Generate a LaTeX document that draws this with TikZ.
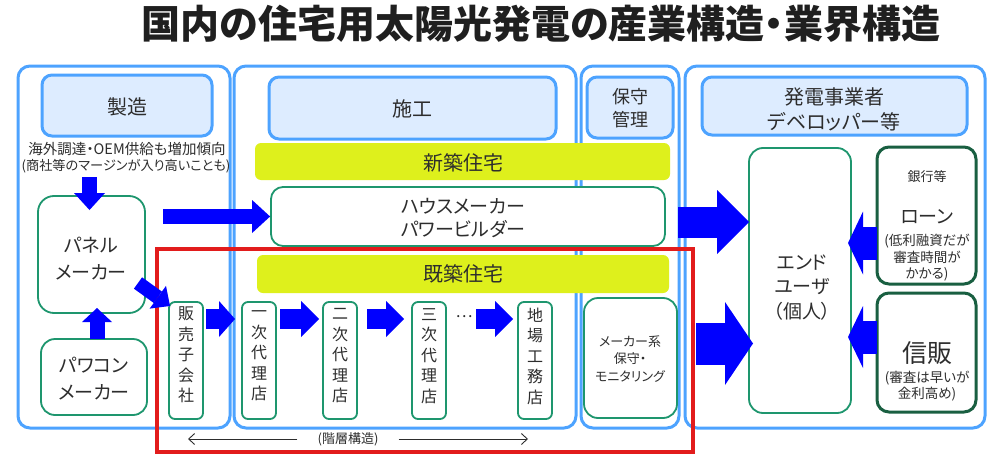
\documentclass[tikz,border=0pt]{standalone}
\usepackage{fontspec}
\setmainfont{Noto Sans CJK JP}[RawFeature=+palt]
\usetikzlibrary{arrows.meta,fit}
\definecolor{pblue}{RGB}{77,163,255}
\definecolor{hblue}{RGB}{221,236,255}
\definecolor{gcol}{RGB}{30,150,110}
\definecolor{dgreen}{RGB}{25,95,65}
\definecolor{ycol}{RGB}{222,240,28}
\definecolor{tcol}{RGB}{45,45,45}
\definecolor{rcol}{RGB}{226,28,28}
\newcommand\fsz[2]{\fontsize{#1}{#2}\selectfont}
\begin{document}
\begin{tikzpicture}[x=1pt,y=-1pt,
  every node/.style={text=tcol, inner sep=0pt, align=center},
  panel/.style={draw=pblue, line width=3pt, rounded corners=12pt},
  hdr/.style={draw=pblue, fill=hblue, line width=3pt, rounded corners=10pt},
  gbox/.style={draw=gcol, line width=1.8pt, rounded corners=8pt, fill=white},
  bankbox/.style={draw=dgreen, line width=3pt, rounded corners=12pt, fill=white},
  ybar/.style={fill=ycol, rounded corners=6pt},
  vtext/.style={font=\fsz{16}{20.5}},
  fat/.style n args={3}{draw=blue, line width=#1, -{Triangle[length=#2, width=#3, line width=0pt]}},
  lvl/.style={draw=tcol, line width=0.9pt, -{Straight Barb[length=6pt,width=11pt]}}
]
\useasboundingbox (0,0) rectangle (1000,460);
\fill[white] (0,0) rectangle (1000,460);

\node[font=\fsz{39}{41}\bfseries, text=black!88] (title) at (541,24) {国内の住宅用太陽光発電の産業構造・業界構造};

% panels
\node[panel, fit={(18,66) (230,428)}] (p1) {};
\node[panel, fit={(234,66) (576,428)}] (p2) {};
\node[panel, fit={(581,66) (679,428)}] (p3) {};
\node[panel, fit={(685,66) (985,428)}] (p4) {};

% headers
\node[hdr, fit={(42,75) (212,136)}] (h1) {};
\node[font=\fsz{20}{24}] (h1t) at (127,107) {製造};
\node[hdr, fit={(269,77) (556,139)}] (h2) {};
\node[font=\fsz{20}{24}] (h2t) at (412,109) {施工};
\node[hdr, fit={(587,77) (673,138)}] (h3) {};
\node[font=\fsz{18}{23}] (h3t) at (630,108.5) {保守\\管理};
\node[hdr, fit={(702,77) (967,135)}] (h4) {};
\node[font=\fsz{20}{25}] (h4t) at (834,109.5) {発電事業者\\デベロッパー等};

% bars
\node[ybar, fit={(255,143) (670,180)}] (newh) {};
\node[font=\fsz{20}{24}] (newt) at (463,163) {新築住宅};
\node[ybar, fit={(257,255) (669,293)}] (oldh) {};
\node[font=\fsz{20}{24}] (oldt) at (463,274) {既築住宅};

\node[gbox, rounded corners=12pt, fit={(271,187) (665,246)}] (house) {};
\node[font=\fsz{19}{23}] (houset) at (463,218.5) {ハウスメーカー\\パワービルダー};

% panel 1
\node[font=\fsz{14.5}{17}] (note1) at (127,149.5) {海外調達・OEM供給も増加傾向};
\node[font=\fsz{13.2}{17}] (note2) at (126,166.5) {(商社等のマージンが入り高いことも)};
\node[gbox, rounded corners=16pt, fit={(38,196) (145,313)}] (pnl) {};
\node[font=\fsz{19}{27}] (pnlt) at (91,258.5) {パネル\\メーカー};
\node[gbox, rounded corners=14pt, fit={(41,339) (147,415)}] (pwc) {};
\node[font=\fsz{19}{27}] (pwct) at (94,378.5) {パワコン\\メーカー};

% vertical boxes
\node[gbox, rounded corners=6pt, fit={(169,302) (203,419)}] (hanbai) {};
\node[vtext] (hanbait) at (186,355) {販\\売\\子\\会\\社};
\node[gbox, rounded corners=6pt, fit={(242,302) (276,419)}] (ichi) {};
\node[vtext] (ichit) at (259,356) {一\\次\\代\\理\\店};
\node[gbox, rounded corners=6pt, fit={(323,302) (357,419)}] (ni) {};
\node[vtext] (nit) at (340,356) {二\\次\\代\\理\\店};
\node[gbox, rounded corners=6pt, fit={(412,302) (446,419)}] (san) {};
\node[vtext] (sant) at (429,356) {三\\次\\代\\理\\店};
\node[gbox, rounded corners=6pt, fit={(518,302) (552,419)}] (jiba) {};
\node[vtext] (jibat) at (535,356) {地\\場\\工\\務\\店};
\node[font=\fsz{16}{20}] (dots) at (464,317) {…};

% panel 3
\node[gbox, rounded corners=14pt, fit={(584,298) (677,418)}] (mnt) {};
\node[font=\fsz{13}{17.5}] (mntt) at (630,359) {メーカー系\\保守・\\モニタリング};

% panel 4
\node[gbox, rounded corners=14pt, fit={(749,148) (851,413)}] (eu) {};
\node[font=\fsz{19}{24.5}] (eut) at (802,287.5) {エンド\\ユーザ\\（個人）};
\node[bankbox, fit={(877,147) (976,284)}] (bank) {};
\node[font=\fsz{13}{16}] (bank1) at (927,177) {銀行等};
\node[font=\fsz{19}{22}] (bank2) at (927,217) {ローン};
\node[font=\fsz{13.5}{16.5}] (bank3) at (927,258) {(低利融資だが\\審査時間が\\かかる)};
\node[bankbox, fit={(877,293) (976,412)}] (shinpan) {};
\node[font=\fsz{25}{28}] (sp1) at (927,353) {信販};
\node[font=\fsz{13.5}{16.5}] (sp2) at (927,386) {(審査は早いが\\金利高め)};

% red frame
\node[draw=rcol, line width=4pt, fit={(157,249) (693,452)}] (red) {};

% hierarchy arrows
\node[font=\fsz{13}{16}] (lvt) at (348,439) {(階層構造)};
\coordinate (lvL) at (188,439);
\coordinate (lvR) at (528,439);
\draw[lvl] ([xshift=-20pt]lvt.west) -- (lvL);
\draw[lvl] ([xshift=20pt]lvt.east) -- (lvR);

% blue arrows
\coordinate (a1s) at (89.5,177); \coordinate (a1e) at (89.5,210);
\draw[fat={15pt}{17pt}{31pt}] (a1s) -- (a1e);
\coordinate (a2s) at (97,339); \coordinate (a2e) at (97,308);
\draw[fat={15pt}{14pt}{30pt}] (a2s) -- (a2e);
\coordinate (a3s) at (163,216.5);
\draw[fat={15pt}{18pt}{33pt}] (a3s) -- (house.west);
\coordinate (a4s) at (138,283); \coordinate (a4e) at (170,306);
\draw[fat={14pt}{15pt}{28pt}] (a4s) -- (a4e);

\coordinate (c1a) at (206,319); \coordinate (c1b) at (235,319);
\coordinate (c2a) at (280,319); \coordinate (c2b) at (319,319);
\coordinate (c3a) at (367,319); \coordinate (c3b) at (404,319);
\coordinate (c4a) at (476,319); \coordinate (c4b) at (513,319);
\draw[fat={20pt}{16pt}{36pt}] (c1a) -- (c1b);
\draw[fat={20pt}{18pt}{36pt}] (c2a) -- (c2b);
\draw[fat={20pt}{18pt}{36pt}] (c3a) -- (c3b);
\draw[fat={20pt}{18pt}{36pt}] (c4a) -- (c4b);

\coordinate (b1a) at (678,222); \coordinate (b1b) at (749,222);
\draw[fat={31pt}{32pt}{64pt}] (b1a) -- (b1b);
\coordinate (b2a) at (696,343.5); \coordinate (b2b) at (753,343.5);
\draw[fat={42pt}{28pt}{83pt}] (b2a) -- (b2b);

\coordinate (l1a) at (877,243); \coordinate (l1b) at (848,243);
\draw[fat={33pt}{15pt}{63pt}] (l1a) -- (l1b);
\coordinate (l2a) at (877,337); \coordinate (l2b) at (848,337);
\draw[fat={33pt}{15pt}{62pt}] (l2a) -- (l2b);
\end{tikzpicture}
\end{document}
